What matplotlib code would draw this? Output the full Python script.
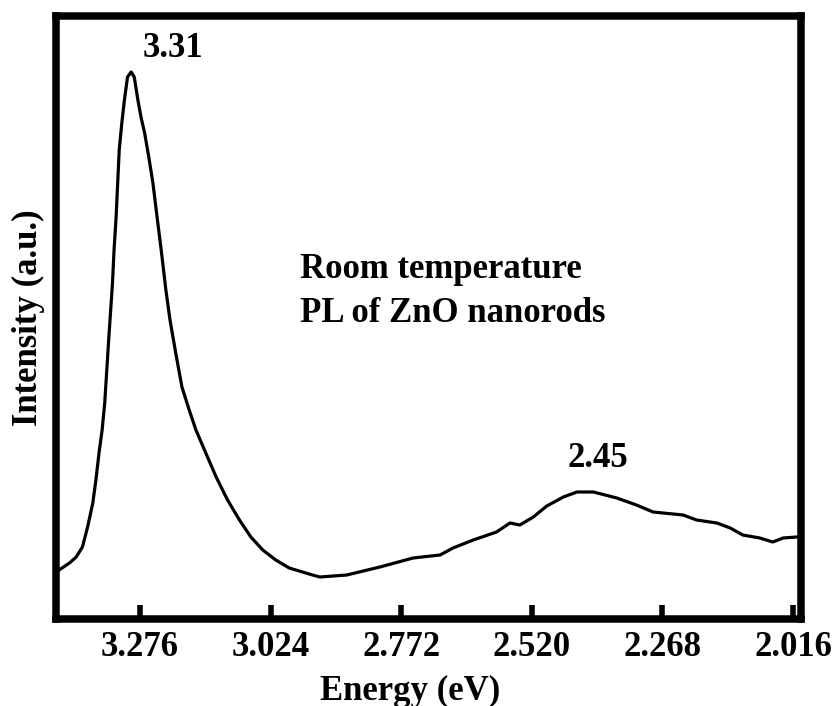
import matplotlib
matplotlib.use("Agg")
import matplotlib.pyplot as plt

# Photoluminescence spectrum
energy_ev = [3.434, 3.432, 3.412, 3.399, 3.387, 3.377, 3.367, 3.361, 3.355, 3.349,
             3.344, 3.336, 3.329, 3.326, 3.322, 3.319, 3.316, 3.311, 3.306, 3.300,
             3.293, 3.287, 3.280, 3.274, 3.267, 3.259, 3.251, 3.243, 3.235, 3.226,
             3.218, 3.207, 3.195, 3.181, 3.168, 3.149, 3.129, 3.107, 3.084, 3.062,
             3.039, 3.014, 2.988, 2.943, 2.929, 2.877, 2.813, 2.749, 2.697, 2.672,
             2.633, 2.588, 2.562, 2.543, 2.517, 2.491, 2.459, 2.433, 2.401, 2.356,
             2.318, 2.286, 2.228, 2.202, 2.163, 2.137, 2.113, 2.080, 2.055, 2.035,
             2.009]
intensity = [48, 49, 56, 62, 72, 92, 116, 139, 166, 189,
             216, 282, 336, 369, 402, 436, 469, 496, 519, 542,
             547, 542, 519, 502, 486, 462, 436, 402, 369, 329,
             299, 266, 232, 209, 189, 166, 142, 119, 99, 82,
             69, 59, 51, 44, 42, 44, 52, 61, 64, 71,
             79, 87, 96, 94, 102, 113, 122, 127, 127, 121,
             114, 107, 104, 99, 96, 91, 84, 81, 77, 81,
             82]

tick_values = [3.276, 3.024, 2.772, 2.520, 2.268, 2.016]
tick_labels = ["3.276", "3.024", "2.772", "2.520", "2.268", "2.016"]

peak_labels = ["3.31", "2.45"]
peak_label_x = [3.270, 2.452]
peak_label_y = [562, 152]

note_lines = ["Room temperature", "PL of ZnO nanorods"]
note_x = 2.967
note_y = [341, 297]

plt.rcParams['font.family'] = ['Liberation Serif', 'DejaVu Serif']
plt.rcParams['font.weight'] = 'bold'
FS = 25

fig = plt.figure(figsize=(8.36, 7.06), dpi=100)
ax = fig.add_axes([56/836, 1 - 619/706, (800.5 - 56)/836, (619 - 15.5)/706])

ax.plot(energy_ev, intensity, color='black', lw=2.3,
        solid_joinstyle='round', solid_capstyle='round')

ax.set_xlim(3.438, 2.0015)
ax.set_ylim(0, 603.5)

for s in ax.spines.values():
    s.set_linewidth(5.4)
    s.set_color('black')

ax.set_xticks(tick_values)
ax.set_xticklabels(tick_labels, fontsize=FS, fontweight='bold')
ax.tick_params(axis='x', direction='in', length=10, width=4, pad=9, top=False)
ax.set_yticks([])

ax.set_xlabel("Energy (eV)", fontsize=FS, fontweight='bold')
ax.xaxis.set_label_coords(0.4755, -0.092)
ax.set_ylabel("Intensity (a.u.)", fontsize=FS, fontweight='bold', labelpad=8)

for lab, xv, yv in zip(peak_labels, peak_label_x, peak_label_y):
    ax.text(xv, yv, lab, fontsize=FS, fontweight='bold', ha='left', va='baseline')

for line, yv in zip(note_lines, note_y):
    ax.text(note_x, yv, line, fontsize=FS, fontweight='bold', ha='left', va='baseline')

fig.savefig("out.png", dpi=100)
